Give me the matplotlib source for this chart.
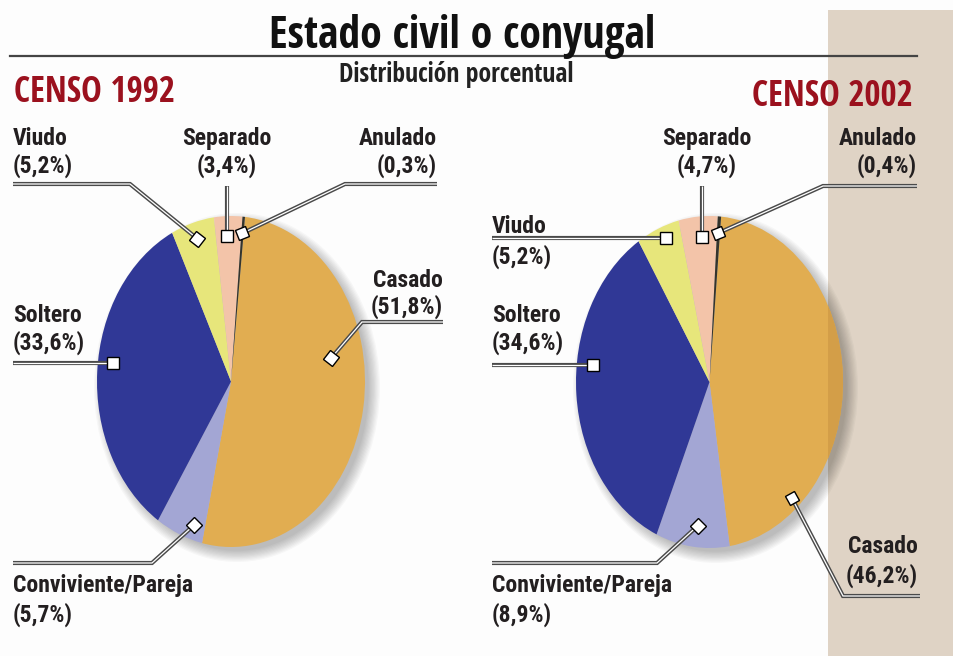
import numpy as np
import matplotlib
matplotlib.use("Agg")
import matplotlib.pyplot as plt
import matplotlib.patheffects as pe
from matplotlib.patches import Rectangle, Ellipse
from matplotlib.markers import MarkerStyle
from matplotlib.transforms import Affine2D
from matplotlib.colors import to_rgb

W, H = 954, 656

## data
categories = ["Casado", "Conviviente/Pareja", "Soltero", "Viudo", "Separado", "Anulado"]
pct_1992 = [51.8, 5.7, 33.6, 5.2, 3.4, 0.3]
pct_2002 = [46.2, 8.9, 34.6, 5.2, 4.7, 0.4]
years = ["CENSO 1992", "CENSO 2002"]
colors = ["#E1AD51", "#A3A6D4", "#303896", "#E7E67B", "#F3C4A9", "#34342C"]

TITLE = "Estado civil o conyugal"
SUBTITLE = "Distribución porcentual"
HEAD_FONT = ["Open Sans Condensed", "Roboto Condensed", "DejaVu Sans"]
LABEL_FONT = ["Roboto Condensed", "DejaVu Sans"]
INK = "#231F20"
RED = "#9B111E"
BEIGE = "#DFD3C5"
STRIP_X, STRIP_Y = 828, 10


def fmt(v):
    return "({:.1f}%)".format(v).replace(".", ",")


# layout: pie ellipse in pixels, where each marker sits on its wedge (fraction along, radius),
# and label placement (x, baseline 1, baseline 2, align, leader points before the marker)
pies = [
    dict(vals=pct_1992, year=years[0], cx=231, cy=381.5, rx=134, ry=165.5, start=84,
         year_xy=(14, 102, "left"),
         anchors=[(0.607, 0.76), (0.75, 0.91), (0.47, 0.89), (0.48, 0.90), (0.57, 0.88), (0.5, 0.9)],
         labels=[(443, 287, 314, "right", [(443, 322), (362, 322)]),
                 (13, 592, 622, "left", [(13, 563), (152, 563)]),
                 (13, 322, 350, "left", [(13, None)]),
                 (13, 145, 173, "left", [(13, 184), (130, 184)]),
                 (227, 145, 173, "center", [(None, 186)]),
                 (437, 145, 173, "right", [(437, 184), (345, 184)])]),
    dict(vals=pct_2002, year=years[1], cx=709.5, cy=382, rx=133.5, ry=166, start=85,
         year_xy=(913, 106, "right"),
         anchors=[(0.197, 0.93), (0.55, 0.87), (0.41, 0.88), (0.39, 0.93), (0.43, 0.875), (0.5, 0.9)],
         labels=[(918, 553, 583, "right", [(920, 596), (843, 596)]),
                 (492, 592, 622, "left", [(492, 563), (657, 563)]),
                 (492, 322, 350, "left", [(492, None)]),
                 (492, 233, 264, "left", [(492, None)]),
                 (707, 145, 173, "center", [(None, 186)]),
                 (917, 145, 173, "right", [(917, 186), (823, 186)])]),
]

fig = plt.figure(figsize=(W / 100, H / 100), dpi=100, facecolor="#FDFDFD")

# beige strip on the right, straight on the figure
fig.add_artist(Rectangle((STRIP_X / W, 0), 1 - STRIP_X / W, 1 - STRIP_Y / H,
                         transform=fig.transFigure, color=BEIGE, lw=0, zorder=-1))

# background layer in pixel coords
bg = fig.add_axes([0, 0, 1, 1], zorder=0)
bg.set_xlim(0, W); bg.set_ylim(H, 0); bg.axis("off")
bg.plot([10, 917], [56, 56], color="#444444", lw=1.6, zorder=1)
bg.text(462, 48, TITLE, ha="center", va="baseline", fontsize=31.5, fontweight="bold",
        family=HEAD_FONT, color="#111111")
bg.text(456, 82, SUBTITLE, ha="center", va="baseline", fontsize=18.5, fontweight="bold",
        family=HEAD_FONT, color="#222222")

# overlay layer for leaders and labels
top = fig.add_axes([0, 0, 1, 1], zorder=5)
top.set_xlim(0, W); top.set_ylim(H, 0); top.axis("off")
top.patch.set_visible(False)

dark = [tuple(np.array(to_rgb(c)) * (0.5 + 0.5 * np.array(to_rgb(BEIGE)))) for c in colors]

for p in pies:
    cx, cy, rx, ry = p["cx"], p["cy"], p["rx"], p["ry"]
    tx, ty, tha = p["year_xy"]
    bg.text(tx, ty, p["year"], ha=tha, va="baseline", fontsize=25, fontweight="bold",
            family=HEAD_FONT, color=RED, zorder=3)

    # soft drop shadow
    for k in range(10):
        bg.add_patch(Ellipse((cx + 6, cy + 6), 2 * rx + 18 - 2.5 * k, 2 * ry + 18 - 2.5 * k,
                             color="#000000", alpha=0.028, lw=0, zorder=2))

    ax = fig.add_axes([(cx - rx) / W, 1 - (cy + ry) / H, 2 * rx / W, 2 * ry / H], zorder=2)
    wedges, _ = ax.pie(p["vals"], colors=colors, startangle=p["start"], counterclock=False,
                       wedgeprops=dict(linewidth=0))
    ax.set_aspect("auto"); ax.set_xlim(-1, 1); ax.set_ylim(-1, 1); ax.axis("off")

    # darker copy of the pie, seen only through an axes that covers the beige strip
    if cx + rx > STRIP_X:
        sx = fig.add_axes([STRIP_X / W, 0, 1 - STRIP_X / W, 1 - STRIP_Y / H], zorder=3)
        sx.pie(p["vals"], colors=dark, startangle=p["start"], counterclock=False,
               wedgeprops=dict(linewidth=0, clip_on=True))
        sx.set_aspect("auto")
        sx.set_xlim((STRIP_X - cx) / rx, (W - cx) / rx)
        sx.set_ylim((cy - H) / ry, (cy - STRIP_Y) / ry)
        sx.set_frame_on(False); sx.set_xticks([]); sx.set_yticks([])
        sx.patch.set_visible(False)

    for i, w in enumerate(wedges):
        frac, rr = p["anchors"][i]
        a = np.radians(w.theta1 + frac * (w.theta2 - w.theta1))
        mx = cx + rr * rx * np.cos(a)
        my = cy - rr * ry * np.sin(a)

        lx, b1, b2, ha, pts = p["labels"][i]
        pts = [(mx if x is None else x, my if y is None else y) for x, y in pts]
        xs = [q[0] for q in pts] + [mx]
        ys = [q[1] for q in pts] + [my]
        top.plot(xs, ys, color="white", lw=0.9, solid_capstyle="butt", solid_joinstyle="miter",
                 path_effects=[pe.Stroke(linewidth=3.0, foreground="#4A4A4A"), pe.Normal()],
                 zorder=3)
        rot = np.degrees(np.arctan2(-(my - ys[-2]), mx - xs[-2]))
        top.plot(mx, my, marker=MarkerStyle("s", transform=Affine2D().rotate_deg(rot)),
                 ms=8, mfc="white", mec="black", mew=1.0, zorder=4)

        top.text(lx, b1, categories[i], ha=ha, va="baseline", fontsize=17, fontweight="bold",
                 family=LABEL_FONT, color=INK)
        top.text(lx, b2, fmt(p["vals"][i]), ha=ha, va="baseline", fontsize=17, fontweight="bold",
                 family=LABEL_FONT, color=INK)

fig.savefig("out.png", dpi=100, facecolor=fig.get_facecolor())
